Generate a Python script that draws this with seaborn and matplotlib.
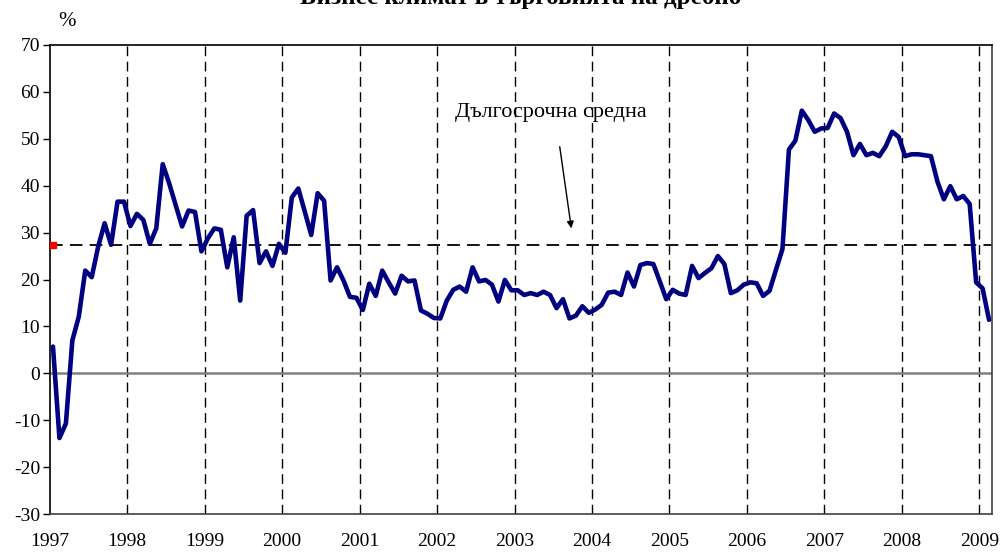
import matplotlib
matplotlib.use('Agg')
import matplotlib.pyplot as plt
import seaborn as sns
import numpy as np
import pandas as pd

title = "Бизнес климат в търговията на дребно"
unit_label = "%"
annotation_text = "Дългосрочна средна"
year_labels = [str(y) for y in range(1997, 2010)]
long_term_mean = 27.3

# monthly values, Jan 1997 - Feb 2009
values = [
    5.7, -13.8, -10.7, 7.0, 12.1, 21.9, 20.5, 27.0, 32.0, 27.4, 36.6, 36.6,   # 1997
    31.4, 34.0, 32.7, 27.6, 30.9, 44.6, 40.5, 35.9, 31.3, 34.7, 34.4, 26.0,   # 1998
    28.8, 30.9, 30.6, 22.6, 29.0, 15.5, 33.6, 34.8, 23.5, 26.0, 22.9, 27.6,   # 1999
    25.7, 37.5, 39.4, 34.5, 29.5, 38.4, 36.8, 19.8, 22.6, 19.8, 16.3, 16.1,   # 2000
    13.5, 19.1, 16.5, 21.9, 19.4, 17.0, 20.8, 19.6, 19.8, 13.4, 12.7, 11.8,   # 2001
    11.7, 15.5, 17.8, 18.5, 17.4, 22.6, 19.6, 19.9, 18.9, 15.3, 19.9, 17.7,   # 2002
    17.7, 16.7, 17.1, 16.7, 17.4, 16.7, 13.9, 15.8, 11.7, 12.3, 14.3, 12.9,   # 2003
    13.6, 14.6, 17.2, 17.4, 16.7, 21.5, 18.5, 23.1, 23.5, 23.3, 19.6, 15.8,   # 2004
    17.8, 17.0, 16.7, 22.9, 20.3, 21.4, 22.4, 25.0, 23.3, 17.1, 17.7, 18.9,   # 2005
    19.4, 19.2, 16.5, 17.6, 22.1, 26.5, 47.7, 49.6, 56.0, 54.0, 51.5, 52.2,   # 2006
    52.3, 55.4, 54.4, 51.5, 46.5, 48.9, 46.5, 47.0, 46.3, 48.4, 51.5, 50.4,   # 2007
    46.3, 46.7, 46.7, 46.5, 46.3, 40.9, 37.1, 39.9, 37.1, 37.8, 36.1, 19.4,   # 2008
    18.1, 11.4,                                                              # 2009
]

sns.set_theme(style='white')
plt.rcParams['font.family'] = ['Liberation Serif', 'DejaVu Serif']
plt.rcParams['axes.unicode_minus'] = False

fig = plt.figure(figsize=(10.03, 5.52), dpi=100)
ax = fig.add_axes([0.0496, 0.0688, 0.9397, 0.8497])

df = pd.DataFrame({'month': np.arange(len(values)), 'value': values})

# year boundary gridlines
year_pos = [k * 12 - 0.5 for k in range(len(year_labels))]
for p in year_pos[1:]:
    ax.axvline(p, color='black', linewidth=1.0, linestyle=(0, (7, 4)), zorder=1)

# zero line
ax.axhline(0, color='#808080', linewidth=1.8, zorder=1)

# long-term mean
ax.axhline(long_term_mean, color='black', linewidth=1.3, linestyle=(0, (7, 4)), zorder=2)
ax.plot([0], [long_term_mean], marker='s', color='red', markersize=4.5,
        linestyle='none', zorder=3, clip_on=False)

sns.lineplot(data=df, x='month', y='value', ax=ax, color='#000080',
             linewidth=3.3, zorder=4)

ax.set_xlim(-0.5, len(values) - 0.5)
ax.set_ylim(-30, 70)
ax.set_yticks(range(-30, 71, 10))
ax.set_xticks(year_pos)
ax.set_xticklabels(year_labels)
ax.set_xlabel('')
ax.set_ylabel('')

ax.tick_params(axis='y', which='both', left=True, direction='out', length=5,
               width=1, color='black', pad=2, labelsize=14, labelcolor='black')
ax.tick_params(axis='x', which='both', bottom=False, length=0, pad=14,
               labelsize=14, labelcolor='black')

for side in ['left', 'top']:
    ax.spines[side].set_color('black')
    ax.spines[side].set_linewidth(1.2)
for side in ['right', 'bottom']:
    ax.spines[side].set_color('#404040')
    ax.spines[side].set_linewidth(1.2)

ax.annotate('', xy=(80.3, 30.9), xytext=(78.5, 48.3),
            arrowprops=dict(arrowstyle='-|>', color='black', lw=1.0,
                            mutation_scale=10, shrinkA=0, shrinkB=0))
ax.text(77.2, 55.5, annotation_text, ha='center', va='center', fontsize=16,
        color='black')

fig.text(67 / 1003, 1 - 22 / 552, unit_label, ha='center', va='center',
         fontsize=15, color='black')
fig.text(521 / 1003, 1 - 4 / 552, title, ha='center', va='baseline',
         fontsize=18, fontweight='bold', color='black')

fig.savefig('out.png', dpi=100)
